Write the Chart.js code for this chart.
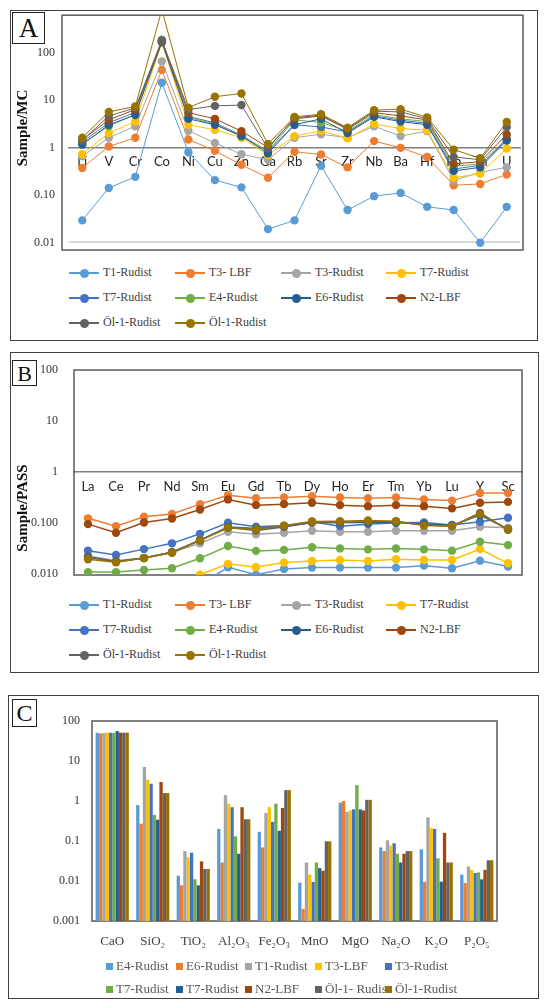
<!DOCTYPE html>
<html lang="en">
<head>
<meta charset="UTF-8">
<title>Rudist / LBF geochemistry</title>
<script src="https://cdn.jsdelivr.net/npm/chart.js"></script>
<style>
    body { margin: 0; background: #fff; width: 550px; height: 1006px; position: relative; overflow: hidden; }
    .panel { position: absolute; border: 1.5px solid #404040; box-sizing: border-box; }
    .tag { position: absolute; border: 1px solid #222; box-sizing: border-box; font-family: "Liberation Serif", serif; color: #111; text-align: center; background: #fff; }
    canvas { position: absolute; }
    .ytitle { position: absolute; font: bold 15px "Liberation Serif", serif; color: #111; white-space: nowrap;
              transform: translate(-50%, -50%) rotate(-90deg); }
    .leg { position: absolute; font: 12px "Liberation Serif", serif; color: #404040; white-space: nowrap;
           line-height: 14px; transform: translateY(-50%); }
    .leg .ln { display: inline-block; position: relative; width: 30px; height: 2px; vertical-align: middle; margin-right: 4px; }
    .leg .ln i { position: absolute; left: 10.5px; top: -3.5px; width: 9px; height: 9px; border-radius: 50%; }
    .leg .sq { display: inline-block; width: 7px; height: 7px; vertical-align: middle; margin-right: 3px; position: relative; top: -1px; }
</style>
</head>
<body>
    <!-- Panel boxes -->
    <div class="panel" style="left:10px;top:10px;width:528px;height:331px"></div>
    <div class="panel" style="left:10px;top:352px;width:529px;height:321px"></div>
    <div class="panel" style="left:8px;top:695px;width:531px;height:304px"></div>

    <canvas id="chartA" width="524" height="250" style="left:11px;top:11px"></canvas>
    <canvas id="chartB" width="524" height="235" style="left:11px;top:353px"></canvas>
    <canvas id="chartC" width="524" height="265" style="left:9px;top:696px"></canvas>

    <div class="tag" style="left:12px;top:12px;width:33px;height:32px;font-size:27px;line-height:31px">A</div>
    <div class="tag" style="left:12px;top:360px;width:25px;height:26px;font-size:22px;line-height:25px">B</div>
    <div class="tag" style="left:12px;top:699px;width:25px;height:28px;font-size:24px;line-height:27px">C</div>

    <div class="ytitle" style="left:22px;top:128px">Sample/MC</div>
    <div class="ytitle" style="left:22px;top:508px">Sample/PASS</div>

    <div id="legends"></div>

<script>
// ---- categories and tick labels
const traceCats = ['Li', 'V', 'Cr', 'Co', 'Ni', 'Cu', 'Zn', 'Ga', 'Rb', 'Sr', 'Zr', 'Nb', 'Ba', 'Hf', 'Pb', 'Th', 'U'];
const reeCats = ['La', 'Ce', 'Pr', 'Nd', 'Sm', 'Eu', 'Gd', 'Tb', 'Dy', 'Ho', 'Er', 'Tm', 'Yb', 'Lu', 'Y', 'Sc'];
const oxideCats = ['CaO', 'SiO₂', 'TiO₂', 'Al₂O₃', 'Fe₂O₃', 'MnO', 'MgO', 'Na₂O', 'K₂O', 'P₂O₅'];

const mcTicks = [100, 10, 1, 0.1, 0.01];
const mcTickText = ['100', '10', '1', '0.10', '0.01'];
const passTicks = [100, 10, 1, 0.1, 0.01];
const passTickText = ['100', '10', '1', '0.100', '0.010'];
const oxTicks = [100, 10, 1, 0.1, 0.01, 0.001];
const oxTickText = ['100', '10', '1', '0.1', '0.01', '0.001'];

// ---- A: trace elements normalised to MC
const mcT1Rudist  = [0.029, 0.14, 0.24, 23, 0.79, 0.205, 0.144, 0.019, 0.029, 0.41, 0.048, 0.094, 0.11, 0.056, 0.048, 0.0098, 0.056];
const mcT3LBF     = [0.37, 1.05, 1.6, 43, 1.47, 0.85, 0.43, 0.23, 0.81, 0.71, 0.38, 1.36, 0.98, 0.63, 0.16, 0.17, 0.27];
const mcT3Rudist  = [0.65, 1.6, 2.8, 65, 2.25, 1.24, 0.72, 0.55, 1.6, 1.9, 1.6, 2.8, 1.73, 2.2, 0.2, 0.3, 0.38];
const mcT7RudistY = [0.72, 2.0, 3.5, 160, 3.0, 2.35, 1.6, 0.69, 1.73, 2.24, 1.55, 3.1, 2.5, 2.3, 0.23, 0.28, 0.95];
const mcT7RudistB = [1.3, 3.3, 5.5, 175, 4.5, 3.3, 1.8, 0.82, 3.0, 2.7, 2.1, 4.6, 3.75, 3.2, 0.35, 0.42, 1.45];
const mcE4Rudist  = [1.2, 2.8, 5.0, 185, 4.3, 3.1, 1.7, 0.85, 3.8, 3.36, 2.2, 4.9, 4.0, 3.5, 0.4, 0.45, 1.55];
const mcE6Rudist  = [1.15, 3.0, 4.8, 165, 4.0, 3.0, 1.75, 0.75, 3.0, 4.0, 2.0, 4.4, 3.5, 3.0, 0.32, 0.38, 1.4];
const mcN2LBF     = [1.45, 3.8, 6.3, 175, 5.4, 4.0, 2.2, 1.0, 4.0, 4.6, 2.4, 5.4, 4.6, 3.8, 0.45, 0.5, 1.88];
const mcOl1RudistA = [1.4, 4.6, 6.8, 180, 6.3, 7.5, 7.8, 0.95, 4.2, 4.8, 2.5, 5.8, 5.6, 4.0, 0.63, 0.55, 2.7];
const mcOl1RudistB = [1.6, 5.6, 7.3, 800, 6.9, 11.7, 13.7, 1.18, 4.4, 5.0, 2.6, 6.1, 6.4, 4.3, 0.9, 0.59, 3.45];

// ---- B: REE normalised to PASS
const passT1Rudist  = [0.005, 0.004, 0.005, 0.006, 0.006, 0.0132, 0.0094, 0.0122, 0.013, 0.013, 0.013, 0.013, 0.0142, 0.0126, 0.0178, 0.0136];
const passT3LBF     = [0.121, 0.085, 0.13, 0.147, 0.23, 0.345, 0.30, 0.31, 0.33, 0.31, 0.30, 0.31, 0.285, 0.27, 0.38, 0.38];
const passT3Rudist  = [0.022, 0.018, 0.020, 0.026, 0.039, 0.066, 0.059, 0.063, 0.069, 0.066, 0.066, 0.069, 0.069, 0.069, 0.083, 0.079];
const passT7RudistY = [0.004, 0.004, 0.005, 0.006, 0.0094, 0.0154, 0.0132, 0.0163, 0.0176, 0.0184, 0.0176, 0.019, 0.0184, 0.0184, 0.030, 0.0158];
const passT7RudistB = [0.028, 0.023, 0.030, 0.039, 0.060, 0.099, 0.083, 0.087, 0.104, 0.085, 0.093, 0.099, 0.10, 0.09, 0.104, 0.124];
const passE4Rudist  = [0.0106, 0.0106, 0.0117, 0.0126, 0.0198, 0.0346, 0.0277, 0.029, 0.0326, 0.031, 0.0297, 0.031, 0.0297, 0.028, 0.042, 0.036];
const passE6Rudist  = [0.021, 0.017, 0.020, 0.026, 0.045, 0.082, 0.076, 0.085, 0.10, 0.10, 0.10, 0.10, 0.093, 0.088, 0.14, 0.074];
const passN2LBF     = [0.093, 0.063, 0.10, 0.12, 0.18, 0.285, 0.22, 0.23, 0.245, 0.22, 0.21, 0.22, 0.21, 0.19, 0.245, 0.255];
const passOl1RudistA = [0.021, 0.017, 0.020, 0.026, 0.045, 0.080, 0.070, 0.082, 0.10, 0.10, 0.105, 0.105, 0.09, 0.085, 0.155, 0.072];
const passOl1RudistB = [0.019, 0.0165, 0.020, 0.0255, 0.044, 0.079, 0.074, 0.087, 0.105, 0.106, 0.11, 0.106, 0.087, 0.085, 0.147, 0.074];

// ---- C: major oxides (wt%)
const oxE4Rudist  = [51, 0.79, 0.0136, 0.2, 0.17, 0.0091, 0.91, 0.069, 0.062, 0.0145];
const oxE6Rudist  = [49, 0.27, 0.0078, 0.029, 0.069, 0.002, 1.0, 0.056, 0.0095, 0.0089];
const oxT1Rudist  = [50, 7.1, 0.056, 1.4, 0.5, 0.029, 0.53, 0.104, 0.39, 0.023];
const oxT3LBF     = [51, 3.4, 0.039, 0.85, 0.7, 0.0145, 0.58, 0.077, 0.21, 0.019];
const oxT3Rudist  = [51, 2.7, 0.051, 0.7, 0.3, 0.0095, 0.62, 0.088, 0.2, 0.0158];
const oxT7RudistG = [51, 0.45, 0.011, 0.13, 0.86, 0.029, 2.5, 0.048, 0.037, 0.0164];
const oxT7RudistD = [56, 0.34, 0.0078, 0.048, 0.18, 0.021, 0.62, 0.029, 0.0096, 0.011];
const oxN2LBF     = [51, 3.0, 0.031, 0.7, 0.67, 0.018, 0.58, 0.048, 0.16, 0.019];
const oxOl1RudistA = [51, 1.58, 0.020, 0.35, 1.87, 0.098, 1.07, 0.056, 0.029, 0.033];
const oxOl1RudistB = [51, 1.58, 0.020, 0.35, 1.87, 0.098, 1.07, 0.056, 0.029, 0.033];

const lineNames = ['T1-Rudist', 'T3- LBF', 'T3-Rudist', 'T7-Rudist', 'T7-Rudist', 'E4-Rudist', 'E6-Rudist', 'N2-LBF', 'Öl-1-Rudist', 'Öl-1-Rudist'];
const barNames = ['E4-Rudist', 'E6-Rudist', 'T1-Rudist', 'T3-LBF', 'T3-Rudist', 'T7-Rudist', 'T7-Rudist', 'N2-LBF', 'Öl-1- Rudist', 'Öl-1-Rudist'];
const palette = ['#5B9BD5', '#ED7D31', '#A5A5A5', '#FFC000', '#4472C4', '#70AD47', '#255E91', '#9E480E', '#636363', '#997300'];

const mcSeries = [mcT1Rudist, mcT3LBF, mcT3Rudist, mcT7RudistY, mcT7RudistB, mcE4Rudist, mcE6Rudist, mcN2LBF, mcOl1RudistA, mcOl1RudistB];
const passSeries = [passT1Rudist, passT3LBF, passT3Rudist, passT7RudistY, passT7RudistB, passE4Rudist, passE6Rudist, passN2LBF, passOl1RudistA, passOl1RudistB];
const oxSeries = [oxE4Rudist, oxE6Rudist, oxT1Rudist, oxT3LBF, oxT3Rudist, oxT7RudistG, oxT7RudistD, oxN2LBF, oxOl1RudistA, oxOl1RudistB];

// frame round the plot area
const plotFrame = {
    id: 'plotFrame',
    beforeDatasetsDraw(chart, args, opts) {
        const a = chart.chartArea, ctx = chart.ctx;
        ctx.save();
        ctx.strokeStyle = opts.color;
        ctx.lineWidth = opts.width;
        ctx.strokeRect(a.left - opts.outL, a.top, a.right - a.left + opts.outL + opts.outR, a.bottom - a.top);
        ctx.restore();
    }
};

function logAxis(o) {
    return {
        type: 'logarithmic', position: 'left', min: o.min, max: o.max,
        afterBuildTicks: s => { s.ticks = o.ticks.map(v => ({ value: v })); },
        afterFit: s => { s.width = o.width; s.paddingTop = 0; s.paddingBottom = 0; },
        grid: {
            drawTicks: false, lineWidth: 2,
            color: c => (o.gridAt && c.tick && c.tick.value === o.gridAt) ? '#d9d9d9' : 'rgba(0,0,0,0)'
        },
        border: { display: false },
        ticks: {
            padding: o.pad, color: '#333',
            font: { family: 'Liberation Serif', size: 12 },
            callback: (v, i) => o.labels[i]
        }
    };
}

function crossAxis(pad) {
    return {
        type: 'category', offset: true, position: { y: 1 },
        grid: { display: false, drawTicks: false },
        border: { display: true, color: '#7f7f7f', width: 1.5 },
        ticks: { padding: pad, color: '#262626', font: { family: 'Lato', size: 13 }, maxRotation: 0, autoSkip: false },
        afterFit: s => { s.height = 0; s.paddingLeft = 0; s.paddingRight = 0; }
    };
}

function lineChart(id, cats, series, yAxis, padding, lineWidth, frame) {
    new Chart(document.getElementById(id), {
        type: 'line',
        data: {
            labels: cats,
            datasets: series.map((d, i) => ({
                label: lineNames[i], data: d,
                borderColor: palette[i], backgroundColor: palette[i],
                borderWidth: lineWidth, tension: 0,
                pointRadius: 4.2, pointBorderWidth: 0, pointBackgroundColor: palette[i],
                order: series.length - i
            }))
        },
        options: {
            responsive: false, animation: false, events: [],
            layout: { padding },
            plugins: { legend: { display: false }, tooltip: { enabled: false }, plotFrame: frame },
            scales: { x: crossAxis(7), y: yAxis }
        },
        plugins: [plotFrame]
    });
}

lineChart('chartA', traceCats, mcSeries,
    logAxis({ min: 0.0069, max: 610, ticks: mcTicks, labels: mcTickText, width: 58, pad: 14, gridAt: 0.01 }),
    { left: 0, top: 4, right: 15, bottom: 11 }, 1,
    { color: '#595959', width: 1.5, outL: 7, outR: 3 });

lineChart('chartB', reeCats, passSeries,
    logAxis({ min: 0.0093, max: 100, ticks: passTicks, labels: passTickText, width: 63, pad: 16 }),
    { left: 0, top: 17, right: 13, bottom: 13 }, 1.5,
    { color: '#595959', width: 1.5, outL: 0, outR: 0 });

new Chart(document.getElementById('chartC'), {
    type: 'bar',
    data: {
        labels: oxideCats,
        datasets: oxSeries.map((d, i) => ({
            label: barNames[i], data: d, backgroundColor: palette[i],
            borderWidth: 0, categoryPercentage: 0.82, barPercentage: 1
        }))
    },
    options: {
        responsive: false, animation: false, events: [],
        layout: { padding: { left: 0, top: 25, right: 36, bottom: 0 } },
        plugins: { legend: { display: false }, tooltip: { enabled: false },
                   plotFrame: { color: '#808080', width: 2, outL: 0, outR: 0 } },
        scales: {
            x: {
                grid: { display: false, drawTicks: false }, border: { display: false },
                ticks: { padding: 13, color: '#404040', font: { family: 'Liberation Serif', size: 13 }, maxRotation: 0, autoSkip: false },
                afterFit: s => { s.height = 40; s.paddingLeft = 0; s.paddingRight = 0; }
            },
            y: logAxis({ min: 0.001, max: 100, ticks: oxTicks, labels: oxTickText, width: 83, pad: 12 })
        }
    },
    plugins: [plotFrame]
});

// ---- legends (HTML, built from the series names/colours)
const lineLegCols = [69, 175, 281, 386];
const barLegCols = [106, 176, 245, 315, 385];
const legendsEl = document.getElementById('legends');

function addLineLegend(rows) {
    lineNames.forEach((name, i) => {
        const el = document.createElement('div');
        el.className = 'leg';
        el.style.left = lineLegCols[i % 4] + 'px';
        el.style.top = rows[Math.floor(i / 4)] + 'px';
        el.innerHTML = `<span class="ln" style="background:${palette[i]}"><i style="background:${palette[i]}"></i></span>${name}`;
        legendsEl.appendChild(el);
    });
}
addLineLegend([272, 297, 322]);
addLineLegend([604, 629, 654]);

barNames.forEach((name, i) => {
    const el = document.createElement('div');
    el.className = 'leg';
    el.style.color = '#595959';
    el.style.fontSize = '13px';
    el.style.left = barLegCols[i % 5] + 'px';
    el.style.top = [966, 989][Math.floor(i / 5)] + 'px';
    el.innerHTML = `<span class="sq" style="background:${palette[i]}"></span>${name}`;
    legendsEl.appendChild(el);
});
</script>
</body>
</html>
